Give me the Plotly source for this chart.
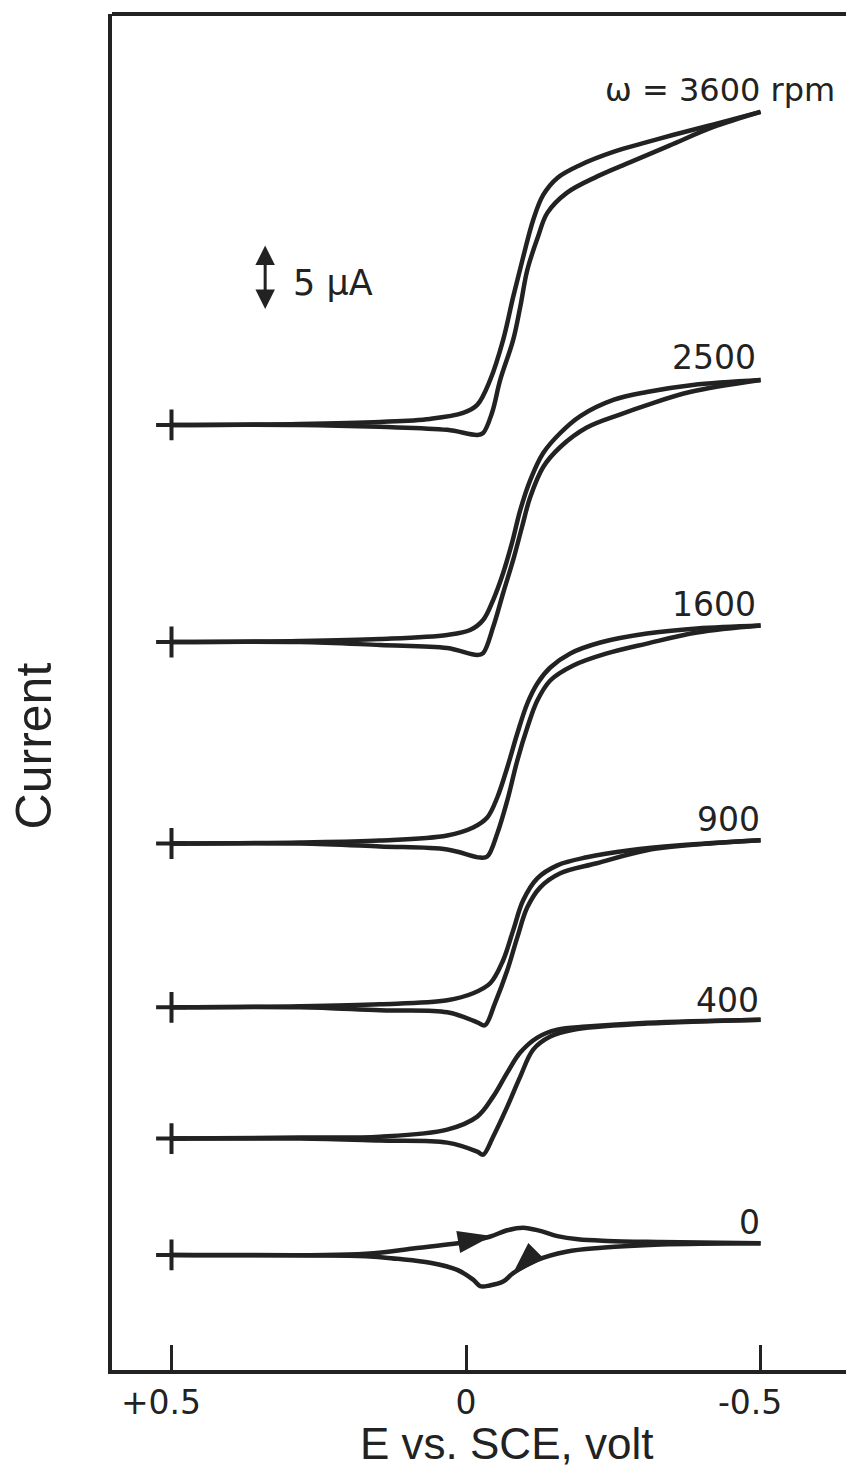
import plotly.graph_objects as go

INK = "#222222"

# ---------------- data (E in V vs SCE, current in µA relative to each trace's baseline) -------------
rpm_labels = ["ω = 3600 rpm", "2500", "1600", "900", "400", "0"]
trace_offset_uA = [72.7, 56.0, 40.5, 27.9, 17.8, 8.85]   # vertical display offset of each voltammogram

E_3600_fwd = [0.5, 0.282, 0.146, 0.061, 0.005, -0.019, -0.041, -0.063, -0.080, -0.097, -0.114, -0.131,
              -0.155, -0.194, -0.250, -0.307, -0.351, -0.419, -0.5]
I_3600_fwd = [0, 0.08, 0.23, 0.46, 0.92, 1.54, 3.46, 6.54, 9.85, 12.92, 15.77, 17.69,
              19.0, 20.0, 21.0, 21.75, 22.3, 23.1, 24.08]
E_3600_rev = [-0.5, -0.419, -0.346, -0.278, -0.222, -0.171, -0.138, -0.122, -0.104, -0.092, -0.080,
              -0.058, -0.044, -0.029, -0.019, 0.032, 0.146, 0.282, 0.5]
I_3600_rev = [24.08, 22.9, 21.5, 20.2, 19.1, 17.85, 16.31, 14.46, 11.92, 9.08, 6.54,
              3.46, 0.92, -0.62, -0.77, -0.38, -0.15, 0, 0]

E_2500_fwd = [0.5, 0.282, 0.146, 0.032, -0.007, -0.029, -0.046, -0.063, -0.078, -0.092, -0.109, -0.131,
              -0.160, -0.194, -0.250, -0.307, -0.385, -0.5]
I_2500_fwd = [0, 0.08, 0.23, 0.54, 0.92, 1.69, 3.23, 5.31, 7.62, 10.15, 12.46, 14.54,
              16.08, 17.38, 18.62, 19.23, 19.77, 20.15]
E_2500_rev = [-0.5, -0.380, -0.307, -0.261, -0.205, -0.160, -0.131, -0.109, -0.095, -0.080, -0.063,
              -0.046, -0.029, -0.019, 0.032, 0.146, 0.282, 0.5]
I_2500_rev = [20.15, 19.23, 18.23, 17.5, 16.5, 15.0, 13.46, 11.15, 8.85, 6.31, 3.77,
              1.15, -0.85, -1.0, -0.46, -0.23, 0, 0]

E_1600_fwd = [0.5, 0.282, 0.146, 0.032, -0.012, -0.036, -0.053, -0.070, -0.087, -0.104, -0.121, -0.143,
              -0.177, -0.228, -0.307, -0.392, -0.5]
I_1600_fwd = [0, 0.08, 0.23, 0.62, 1.23, 2.0, 3.54, 5.85, 8.46, 10.77, 12.31, 13.54,
              14.62, 15.46, 16.15, 16.54, 16.77]
E_1600_rev = [-0.5, -0.392, -0.307, -0.239, -0.182, -0.143, -0.121, -0.104, -0.087, -0.070, -0.053,
              -0.036, -0.024, 0.032, 0.146, 0.282, 0.5]
I_1600_rev = [16.77, 16.23, 15.38, 14.62, 13.69, 12.54, 11.0, 8.92, 6.38, 3.31, 0.77,
              -1.0, -1.08, -0.46, -0.23, 0, 0]

E_900_fwd = [0.5, 0.282, 0.146, 0.032, -0.012, -0.041, -0.063, -0.080, -0.097, -0.121, -0.155, -0.205,
             -0.278, -0.363, -0.5]
I_900_fwd = [0, 0.08, 0.23, 0.54, 1.08, 1.85, 3.62, 5.92, 8.23, 9.92, 10.92, 11.54,
             12.08, 12.46, 12.85]
E_900_rev = [-0.5, -0.419, -0.307, -0.222, -0.160, -0.126, -0.104, -0.087, -0.070, -0.049, -0.032,
             -0.019, 0.032, 0.146, 0.282, 0.5]
I_900_rev = [12.85, 12.62, 12.08, 11.08, 10.31, 9.23, 7.69, 5.38, 2.85, 0.31, -1.38,
             -1.15, -0.38, -0.23, 0, 0]

E_400_fwd = [0.5, 0.282, 0.146, 0.032, -0.019, -0.046, -0.070, -0.092, -0.121, -0.155, -0.205, -0.307, -0.5]
I_400_fwd = [0, 0.08, 0.15, 0.69, 1.69, 3.23, 5.08, 6.62, 7.77, 8.38, 8.62, 8.92, 9.15]
E_400_rev = [-0.5, -0.307, -0.182, -0.143, -0.114, -0.092, -0.070, -0.046, -0.029, -0.019, 0.032,
             0.146, 0.282, 0.5]
I_400_rev = [9.15, 8.85, 8.38, 7.85, 6.85, 4.77, 2.46, 0.15, -1.23, -1.0, -0.31,
             -0.15, 0, 0]

E_0_fwd = [0.5, 0.17, 0.09, 0.032, 0.0, -0.04, -0.07, -0.097, -0.126, -0.155, -0.19, -0.24, -0.33, -0.5]
I_0_fwd = [0, 0.1, 0.5, 0.8, 1.0, 1.4, 1.9, 2.1, 1.85, 1.45, 1.2, 1.08, 1.0, 0.9]
E_0_rev = [-0.5, -0.33, -0.23, -0.17, -0.12, -0.08, -0.063, -0.04, -0.024, -0.012, 0.015, 0.061,
           0.117, 0.17, 0.5]
I_0_rev = [0.9, 0.8, 0.55, 0.25, -0.4, -1.4, -2.05, -2.35, -2.4, -1.9, -1.15, -0.6,
           -0.3, -0.1, 0]

# scan-direction arrowheads (tip positions) on the stationary (0 rpm) voltammogram
arrow_E = [-0.044, -0.078]
arrow_I = [1.45, -1.55]
arrow_dir_deg = [80, 225]

x_tick_vals = [0.5, 0.0, -0.5]
x_tick_text = ["+0.5\u00a0\u00a0", "0", "-0.5\u00a0\u00a0"]
scale_bar_uA = 5

curves = [
    (E_3600_fwd, I_3600_fwd, E_3600_rev, I_3600_rev),
    (E_2500_fwd, I_2500_fwd, E_2500_rev, I_2500_rev),
    (E_1600_fwd, I_1600_fwd, E_1600_rev, I_1600_rev),
    (E_900_fwd, I_900_fwd, E_900_rev, I_900_rev),
    (E_400_fwd, I_400_fwd, E_400_rev, I_400_rev),
    (E_0_fwd, I_0_fwd, E_0_rev, I_0_rev),
]

# ---------------- figure -------------
fig = go.Figure()
line_style = dict(color=INK, width=4.5, shape="spline", smoothing=1.0)

for (ef, i_f, er, i_r), off in zip(curves, trace_offset_uA):
    fig.add_trace(go.Scatter(x=ef, y=[v + off for v in i_f], mode="lines", line=line_style,
                             hoverinfo="skip", showlegend=False))
    fig.add_trace(go.Scatter(x=er, y=[v + off for v in i_r], mode="lines", line=line_style,
                             hoverinfo="skip", showlegend=False))

# start markers (+) at E = +0.5 V
fig.add_trace(go.Scatter(x=[0.5] * len(trace_offset_uA), y=trace_offset_uA, mode="markers",
                         marker=dict(symbol="cross-thin", size=22, line=dict(width=4, color=INK)),
                         hoverinfo="skip", showlegend=False))

# arrowheads on 0 rpm trace
fig.add_trace(go.Scatter(x=arrow_E, y=[v + trace_offset_uA[-1] for v in arrow_I], mode="markers",
                         marker=dict(symbol="arrow", size=36, angle=arrow_dir_deg, color=INK,
                                     line=dict(width=0)),
                         hoverinfo="skip", showlegend=False))

# curve labels
label_E = [-0.630, -0.496, -0.496, -0.503, -0.500, -0.503]
label_y = [98.46, 77.85, 58.85, 42.31, 28.46, 11.38]
label_size = [32, 33, 33, 33, 33, 33]
for txt, ex, yy, fs in zip(rpm_labels, label_E, label_y, label_size):
    fig.add_annotation(x=ex, y=yy, text=txt, showarrow=False, xanchor="right", yanchor="middle",
                       font=dict(family="DejaVu Sans", size=fs, color=INK))

# scale bar 5 µA
bar_E = 0.341
bar_top = 86.5
fig.add_annotation(x=bar_E, y=bar_top, ax=bar_E, ay=bar_top - scale_bar_uA, xref="x", yref="y",
                   axref="x", ayref="y", showarrow=True, arrowhead=2, arrowside="end+start",
                   arrowsize=1.3, arrowwidth=3, arrowcolor=INK, text="")
fig.add_annotation(x=0.297, y=83.6, text="5 μA", showarrow=False, xanchor="left", yanchor="middle",
                   font=dict(family="DejaVu Sans", size=35, color=INK))

# axis titles
fig.add_annotation(x=-0.068, y=-0.054, xref="x", yref="paper", text="E vs. SCE, volt",
                   showarrow=False, xanchor="center", yanchor="middle",
                   font=dict(family="Liberation Sans, Arial, sans-serif", size=44, color=INK))
fig.add_annotation(x=-0.106, y=0.46, xref="paper", yref="paper", text="Current", textangle=-90,
                   showarrow=False, xanchor="center", yanchor="middle",
                   font=dict(family="Liberation Sans, Arial, sans-serif", size=50, color=INK))

# top frame line
fig.add_shape(type="line", xref="paper", yref="paper", x0=0, x1=1, y0=1, y1=1,
              line=dict(color=INK, width=4))

fig.update_xaxes(range=[0.601, -0.645], tickvals=x_tick_vals, ticktext=x_tick_text,
                 ticks="inside", ticklen=25, tickwidth=3, tickcolor=INK,
                 showline=True, linewidth=4, linecolor=INK, showgrid=False, zeroline=False,
                 tickfont=dict(family="DejaVu Sans", size=33, color=INK), ticklabelstandoff=0)
fig.update_yaxes(range=[0, 104.31], showticklabels=False, ticks="", showline=True, linewidth=4,
                 linecolor=INK, showgrid=False, zeroline=False)

fig.update_layout(width=846, height=1472, margin=dict(l=112, r=0, t=14, b=102),
                  paper_bgcolor="white", plot_bgcolor="white")

fig.write_html("out.html")
